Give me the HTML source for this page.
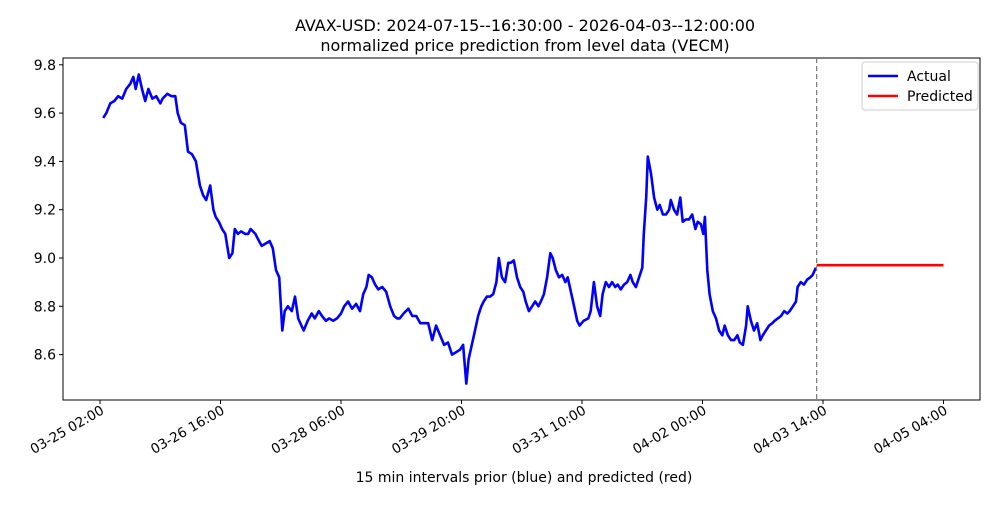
<!DOCTYPE html>
<html><head><meta charset="utf-8"><style>
body{margin:0;background:#fff;font-family:"Liberation Sans","DejaVu Sans",sans-serif}
svg text{font-family:"DejaVu Sans","Liberation Sans",sans-serif}
</style></head><body>
<svg id="c" width="1000" height="500" xmlns="http://www.w3.org/2000/svg"></svg>
<script>
const actualIdx=[4,8,13,18,23,28,33,38,42,45,49,53,57,61,66,71,76,79,85,90,95,98,102,107,111,116,121,126,130,134,139,143,146,150,154,158,163,167,170,174,178,183,187,190,196,199,204,209,214,218,222,226,230,233,237,242,246,250,254,257,262,267,271,276,280,285,289,294,299,304,308,313,318,323,328,332,336,339,343,347,351,356,361,366,371,375,378,383,389,394,399,404,409,414,419,424,429,434,439,444,449,454,458,462,465,469,473,477,481,484,488,492,496,500,503,507,511,515,518,522,526,530,534,537,541,545,549,553,556,560,564,568,571,575,579,583,587,590,594,598,602,605,610,616,619,623,627,631,634,638,642,646,650,653,657,661,665,669,672,676,680,684,686,689,691,695,699,703,706,710,714,718,720,724,728,732,735,739,743,747,751,754,758,761,763,766,769,773,777,781,785,788,792,796,800,804,807,811,815,817,821,825,829,833,836,840,844,848,851,855,859,863,867,870,874,878,880,884,888,892,896,899,903];
const actual=[9.58,9.60,9.64,9.65,9.67,9.66,9.70,9.72,9.75,9.70,9.76,9.70,9.65,9.70,9.66,9.67,9.64,9.66,9.68,9.67,9.67,9.60,9.56,9.55,9.44,9.43,9.40,9.30,9.26,9.24,9.30,9.20,9.17,9.15,9.12,9.10,9.00,9.02,9.12,9.10,9.11,9.10,9.10,9.12,9.10,9.08,9.05,9.06,9.07,9.04,8.95,8.92,8.70,8.78,8.80,8.78,8.84,8.75,8.72,8.70,8.74,8.77,8.75,8.78,8.76,8.74,8.75,8.74,8.75,8.77,8.80,8.82,8.79,8.81,8.78,8.85,8.88,8.93,8.92,8.89,8.87,8.88,8.86,8.80,8.76,8.75,8.75,8.77,8.79,8.76,8.76,8.73,8.73,8.73,8.66,8.72,8.68,8.64,8.65,8.60,8.61,8.62,8.64,8.48,8.58,8.64,8.70,8.76,8.80,8.82,8.84,8.84,8.85,8.90,9.00,8.92,8.90,8.98,8.98,8.99,8.92,8.88,8.86,8.82,8.78,8.80,8.82,8.80,8.82,8.85,8.92,9.02,9.00,8.95,8.92,8.93,8.90,8.92,8.86,8.80,8.74,8.72,8.74,8.75,8.78,8.90,8.80,8.76,8.85,8.90,8.88,8.90,8.88,8.89,8.87,8.89,8.90,8.93,8.90,8.88,8.92,8.96,9.10,9.25,9.42,9.35,9.25,9.20,9.22,9.18,9.18,9.20,9.24,9.20,9.18,9.25,9.15,9.16,9.16,9.18,9.12,9.15,9.14,9.10,9.17,8.95,8.85,8.78,8.75,8.70,8.68,8.72,8.68,8.66,8.66,8.68,8.65,8.64,8.72,8.80,8.74,8.70,8.73,8.66,8.68,8.70,8.72,8.73,8.74,8.75,8.76,8.78,8.77,8.78,8.80,8.82,8.88,8.90,8.89,8.91,8.92,8.93,8.96];
const predictedIdx=[904,1064];
const predicted=[8.97,8.97];
const forecastStart=904;
const xTicks=[0,152,304,456,608,760,912,1064];
const xTickLabels=["03-25 02:00","03-26 16:00","03-28 06:00","03-29 20:00","03-31 10:00","04-02 00:00","04-03 14:00","04-05 04:00"];
const yTicks=[8.6,8.8,9.0,9.2,9.4,9.6,9.8];
const L=63,R=980,T=58,B=400;
const X=i=>100+(i)*120.5/152;
const Y=v=>258-(v-9.0)*241.5;
const s=document.getElementById('c');const NS='http://www.w3.org/2000/svg';
function mk(t,a,txt){const e=document.createElementNS(NS,t);for(const k in a)e.setAttribute(k,a[k]);if(txt!==undefined)e.textContent=txt;s.appendChild(e);return e;}
let e;
e=mk('rect',{x:L,y:T,width:R-L,height:B-T,fill:'none',stroke:'#000','stroke-width':1});

yTicks.forEach(v=>{const y=Y(v);
e=mk('line',{x1:L-4,x2:L,y1:y,y2:y,stroke:'#000'});
e=mk('text',{x:L-7,y:y+5,'text-anchor':'end','font-size':14},v.toFixed(1));});
xTicks.forEach((t,k)=>{const x=X(t);
e=mk('line',{x1:x,x2:x,y1:B,y2:B+4,stroke:'#000'});
e=mk('text',{x:x+5,y:B+13,'text-anchor':'end','font-size':13.5,transform:`rotate(-30 ${x+5} ${B+13})`},xTickLabels[k]);});
const pts=actual.map((v,i)=>X(actualIdx[i]).toFixed(1)+','+Y(v).toFixed(1)).join(' ');
e=mk('polyline',{points:pts,fill:'none',stroke:'#0000ff','stroke-width':2.6,'stroke-linejoin':'round'});
const pp=predicted.map((v,i)=>X(predictedIdx[i]).toFixed(1)+','+Y(v).toFixed(1)).join(' ');
e=mk('polyline',{points:pp,fill:'none',stroke:'#ff0000','stroke-width':2.6});
e=mk('line',{x1:X(forecastStart),x2:X(forecastStart),y1:T,y2:B,stroke:'#777','stroke-dasharray':'5,3','stroke-width':1.2});
e=mk('text',{x:525,y:31,'text-anchor':'middle','font-size':16},'AVAX-USD: 2024-07-15--16:30:00 - 2026-04-03--12:00:00');
e=mk('text',{x:525,y:51,'text-anchor':'middle','font-size':16},'normalized price prediction from level data (VECM)');
e=mk('text',{x:524,y:482,'text-anchor':'middle','font-size':14},'15 min intervals prior (blue) and predicted (red)');
e=mk('rect',{x:862,y:62,width:116,height:48,rx:3,fill:'#fff',stroke:'#ccc'});
e=mk('line',{x1:868,x2:898,y1:76,y2:76,stroke:'#0000ff','stroke-width':2.6});
e=mk('text',{x:907,y:81,'font-size':14},'Actual');
e=mk('line',{x1:868,x2:898,y1:96,y2:96,stroke:'#ff0000','stroke-width':2.6});
e=mk('text',{x:907,y:101,'font-size':14},'Predicted');
</script>
</body></html>
